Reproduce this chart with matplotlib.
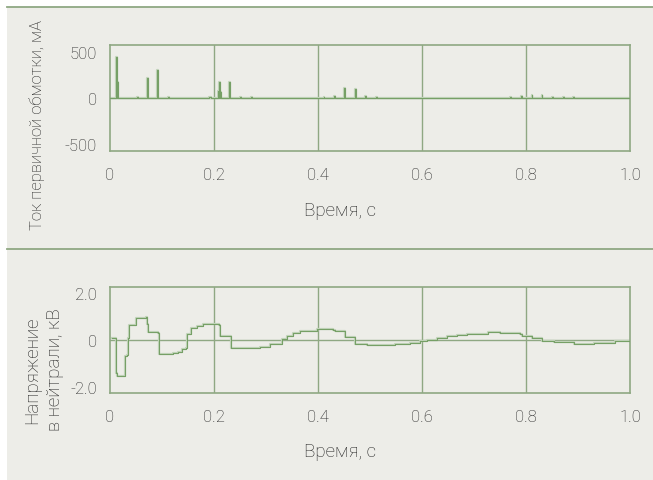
import matplotlib
matplotlib.use('Agg')
import matplotlib.pyplot as plt
from matplotlib.lines import Line2D
from matplotlib.patches import Rectangle

# ток первичной обмотки: импульсы (начало, длительность, амплитуда мА)
pulse_start = [0.0115, 0.0135, 0.053, 0.0725, 0.0915, 0.112, 0.191, 0.2085, 0.2105, 0.2125,
               0.2300, 0.251, 0.272, 0.411, 0.432, 0.4505, 0.4705, 0.491, 0.512, 0.530,
               0.729, 0.750, 0.770, 0.790, 0.811, 0.830, 0.850, 0.871, 0.891]
pulse_width = [0.002, 0.002, 0.0015, 0.002, 0.002, 0.0015, 0.003, 0.002, 0.002, 0.002,
               0.002, 0.0015, 0.0015, 0.0015, 0.0015, 0.002, 0.002, 0.0015, 0.0015, 0.0015,
               0.0015, 0.0015, 0.0015, 0.0015, 0.0015, 0.0015, 0.0015, 0.0015, 0.0015]
pulse_ma = [447, 178, 6, 218, 308, 10, 12, 78, 172, 64,
            175, 10, 10, 10, 22, 107, 100, 25, 10, 5,
            5, 5, 12, 22, 35, 35, 12, 10, 10]

# напряжение в нейтрали, кВ
u_t = [0.004, 0.011, 0.0125, 0.0145, 0.028, 0.0295, 0.0325, 0.0345, 0.0375, 0.0505,
       0.0515, 0.0705, 0.072, 0.0745, 0.0915, 0.093, 0.0948, 0.110, 0.122, 0.132,
       0.1385, 0.1465, 0.149, 0.153, 0.1555, 0.167, 0.180, 0.193, 0.2095, 0.2115,
       0.2315, 0.2335, 0.257, 0.289, 0.308, 0.331, 0.340, 0.353, 0.366, 0.379,
       0.398, 0.430, 0.433, 0.452, 0.4525, 0.468, 0.4715, 0.494, 0.549, 0.577,
       0.597, 0.610, 0.629, 0.648, 0.667, 0.687, 0.728, 0.751, 0.789, 0.792,
       0.812, 0.831, 0.853, 0.892, 0.930, 0.972, 1.0]
u_kv = [0.08, 0.08, -1.40, -1.56, -1.56, -0.70, -0.65, 0.10, 0.66, 0.66,
        0.96, 0.98, 0.70, 0.36, 0.36, 0.30, -0.61, -0.61, -0.57, -0.52,
        -0.40, -0.33, 0.24, 0.28, 0.53, 0.60, 0.69, 0.67, 0.65, 0.18,
        0.18, -0.34, -0.33, -0.30, -0.17, 0.03, 0.18, 0.30, 0.37, 0.40,
        0.46, 0.44, 0.38, 0.30, 0.11, 0.11, -0.17, -0.23, -0.19, -0.13,
        -0.03, 0.00, 0.07, 0.16, 0.21, 0.28, 0.33, 0.30, 0.28, 0.18,
        0.07, -0.04, -0.10, -0.17, -0.13, -0.04, -0.03]

x_ticks = [0, 0.2, 0.4, 0.6, 0.8, 1.0]
x_labels = ['0', '0.2', '0.4', '0.6', '0.8', '1.0']

BG = '#ededE8'
GRID = '#8fa883'
LINE = '#76a066'
HALO = '#c3d4bb'
TEXT = '#222222'

plt.rcParams['font.family'] = ['Roboto', 'DejaVu Sans']
plt.rcParams['font.weight'] = 'light'

fig = plt.figure(figsize=(6.53, 4.81), dpi=100)
fig.patch.set_facecolor('white')
fig.patches.append(Rectangle((7 / 653, 0), 1 - 7 / 653, 1 - 8 / 481,
                             transform=fig.transFigure, facecolor=BG, edgecolor='none', zorder=-2))
for yy in (8, 250):
    fig.lines.append(Line2D([7 / 653, 1], [1 - yy / 481] * 2, transform=fig.transFigure,
                            color=GRID, lw=1.3, zorder=-1))


def style_axes(ax, ylim, yticks, ylabels):
    ax.set_facecolor(BG)
    ax.set_xlim(0, 1.0)
    ax.set_ylim(*ylim)
    ax.set_xticks(x_ticks)
    ax.set_xticklabels(x_labels)
    ax.set_yticks(yticks)
    ax.set_yticklabels(ylabels)
    ax.tick_params(length=0, labelsize=12, colors=TEXT)
    ax.tick_params(axis='x', pad=12)
    ax.tick_params(axis='y', pad=9)
    for s in ax.spines.values():
        s.set_color(GRID)
        s.set_linewidth(1.2)
    for xv in x_ticks[1:-1]:
        ax.axvline(xv, color=GRID, lw=1.0, zorder=1)
    ax.axhline(0, color=GRID, lw=1.0, zorder=1)


ax1 = fig.add_axes([0.168, 0.6846, 0.7968, 0.2191])
style_axes(ax1, (-570, 570), [-500, 0, 500], ['-500', '0', '500'])

# собираем ступенчатую кривую из импульсов
i_t, i_ma = [0.0], [0.0]
for s, w, h in zip(pulse_start, pulse_width, pulse_ma):
    i_t += [s, s, s + w, s + w]
    i_ma += [0, h, h, 0]
i_t.append(1.0)
i_ma.append(0.0)
ax1.plot(i_t, i_ma, color=HALO, lw=1.6, zorder=2)
ax1.plot(i_t, i_ma, color=LINE, lw=0.8, zorder=3)

ax2 = fig.add_axes([0.168, 0.1815, 0.7968, 0.2189])
style_axes(ax2, (-2.26, 2.26), [-2.0, 0, 2.0], ['-2.0', '0', '2.0'])
ax2.plot(u_t, u_kv, drawstyle='steps-post', color=HALO, lw=1.6, zorder=2)
ax2.plot(u_t, u_kv, drawstyle='steps-post', color=LINE, lw=0.8, zorder=3)

fig.text(340 / 653, 1 - 211 / 481, 'Время, с', ha='center', va='center', fontsize=13.5, color=TEXT)
fig.text(340 / 653, 1 - 452 / 481, 'Время, с', ha='center', va='center', fontsize=13.5, color=TEXT)
fig.text(37 / 653, 1 - 125 / 481, 'Ток первичной обмотки, мА', rotation=90,
         ha='center', va='center', fontsize=12, color=TEXT)
fig.text(44 / 653, 1 - 370 / 481, 'Напряжение\nв нейтрали, кВ', rotation=90,
         ha='center', va='center', fontsize=13.5, color=TEXT, linespacing=1.35)

fig.savefig('out.png', dpi=100)
